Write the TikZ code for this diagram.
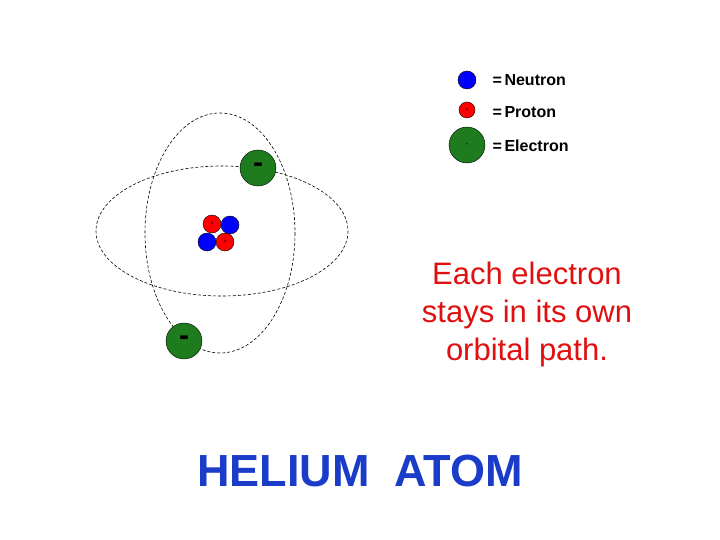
\documentclass[tikz,border=0pt]{standalone}
\usepackage{fontspec}
\setmainfont{Liberation Sans}
\definecolor{egreen}{HTML}{1E7B1E}
\definecolor{tred}{HTML}{E01010}
\definecolor{tblue}{HTML}{1A3CC8}
\begin{document}
\begin{tikzpicture}[x=1pt,y=-1pt,
  orb/.style={draw=black,densely dashed,line width=0.6pt},
  neu/.style={circle,draw=black,fill=blue,minimum size=18pt,inner sep=0pt},
  pro/.style={circle,draw=black,fill=red,minimum size=18pt,inner sep=0pt,font=\fontsize{6}{6}\selectfont,text=black},
  ele/.style={circle,draw=black,fill=egreen,minimum size=36pt,inner sep=0pt,font=\bfseries\fontsize{30}{30}\selectfont},
  leg/.style={anchor=west,font=\bfseries\fontsize{16}{16}\selectfont}]
\useasboundingbox (0,0) rectangle (720,540);
\fill[white] (0,0) rectangle (720,540);
\draw[orb] (222,231) ellipse [x radius=126, y radius=65];
\draw[orb] (220,233) ellipse [x radius=75, y radius=120];
\node[ele] (e1) at (258,168) {-};
\node[ele] (e2) at (184,341) {-};
\node[neu] (n1) at (230,225) {};
\node[pro] (p1) at (212,224) {+};
\node[neu] (n2) at (207,242) {};
\node[pro] (p2) at (225,242) {+};
\node[neu] (ln) at (467,80) {};
\node[pro,minimum size=16pt] (lp) at (467,110) {+};
\node[ele,font=\fontsize{8}{8}\selectfont] (le) at (467,145) {-};
\node[leg] (tn) at (489,80) {=\,Neutron};
\node[leg] (tp) at (489,112) {=\,Proton};
\node[leg] (te) at (489,146) {=\,Electron};
\node[text=tred,align=center,font=\fontsize{31}{38}\selectfont] (msg) at (527,314) {Each electron\\stays in its own\\orbital path.};
\node[text=tblue,font=\bfseries\fontsize{45}{45}\selectfont] (title) at (360,471) {HELIUM\ \ ATOM};
\end{tikzpicture}
\end{document}
